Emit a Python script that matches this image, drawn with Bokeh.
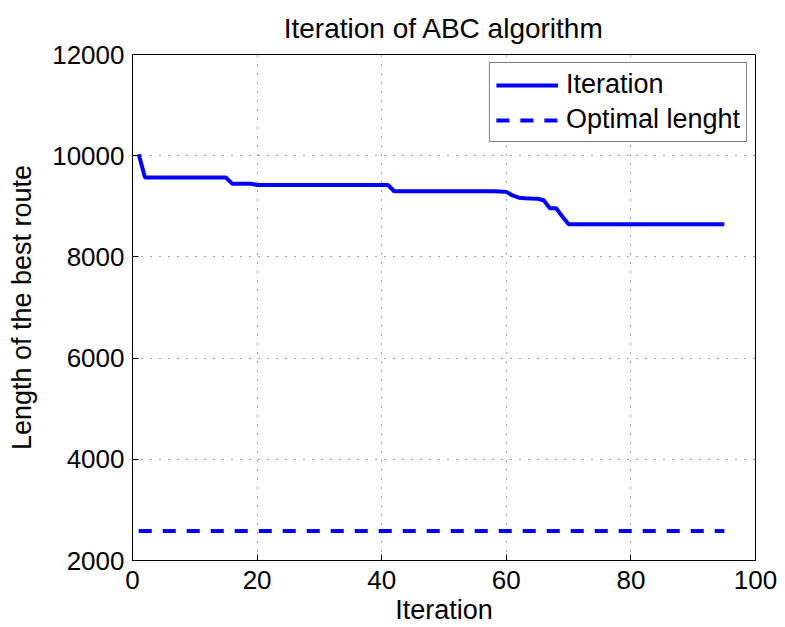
from bokeh.plotting import figure
from bokeh.models import FixedTicker, Range1d, Legend, LegendItem
from bokeh.embed import file_html
from bokeh.resources import INLINE

# Best route length found at each iteration of the ABC run
iterations = list(range(1, 96))
best_length = (
    [10030]
    + [9567] * 14            # iterations 2-15
    + [9447] * 4             # 16-19
    + [9422] * 22            # 20-41
    + [9297] * 17            # 42-58
    + [9294, 9285]           # 59-60
    + [9215, 9170, 9160, 9152, 9148, 9120]   # 61-66
    + [8960, 8960, 8800]     # 67-69
    + [8645] * 26            # 70-95
)
optimal_length = 2585
optimal_x = [1, 95]
optimal_y = [optimal_length, optimal_length]

x_ticks = [0, 20, 40, 60, 80, 100]
y_ticks = [2000, 4000, 6000, 8000, 10000, 12000]

FONT = "Liberation Sans"

p = figure(
    width=785, height=627,
    x_range=Range1d(0, 100), y_range=Range1d(2000, 12000),
    output_backend="svg", toolbar_location=None,
    min_border_left=132, min_border_right=30,
    min_border_top=54, min_border_bottom=65,
    title="Iteration of ABC algorithm",
)
p.title.text_font = FONT
p.title.text_font_size = "28px"
p.title.text_font_style = "normal"
p.title.text_color = "black"
p.title.align = "center"
p.title.standoff = 21

p.outline_line_color = "black"
p.outline_line_width = 1
p.background_fill_color = "white"
p.border_fill_color = "white"

for ax in (p.xaxis[0], p.yaxis[0]):
    ax.major_label_text_font = FONT
    ax.major_label_text_font_size = "26px"
    ax.major_label_text_color = "black"
    ax.axis_label_text_font = FONT
    ax.axis_label_text_font_size = "27px"
    ax.axis_label_text_font_style = "normal"
    ax.axis_label_text_color = "black"
    ax.major_tick_in = 6
    ax.major_tick_out = 0
    ax.minor_tick_in = 0
    ax.minor_tick_out = 0
    ax.axis_line_color = "black"
    ax.major_tick_line_color = "black"

p.xaxis.ticker = FixedTicker(ticks=x_ticks)
p.yaxis.ticker = FixedTicker(ticks=y_ticks)
p.xaxis.axis_label = "Iteration"
p.yaxis.axis_label = "Length of the best route"
p.xaxis.major_label_standoff = 10
p.xaxis.axis_label_standoff = 3
p.yaxis.major_label_standoff = 8
p.yaxis.axis_label_standoff = 12

p.xgrid.ticker = FixedTicker(ticks=x_ticks)
p.ygrid.ticker = FixedTicker(ticks=y_ticks)
for g in (p.xgrid[0], p.ygrid[0]):
    g.grid_line_color = "#404040"
    g.grid_line_dash = "1 8"
    g.grid_line_width = 1

r_iter = p.line(iterations, best_length, line_color="#0000ff", line_width=4)
r_opt = p.line(optimal_x, optimal_y, line_color="#0000ff", line_width=4, line_dash="13 11")

legend = Legend(
    items=[LegendItem(label="Iteration", renderers=[r_iter]),
           LegendItem(label="Optimal lenght", renderers=[r_opt])],
    location="top_right",
)
legend.label_text_font = FONT
legend.label_text_font_size = "27px"
legend.label_text_color = "black"
legend.glyph_width = 62
legend.glyph_height = 30
legend.label_height = 30
legend.spacing = 4
legend.padding = 6
legend.margin = 8
legend.border_line_color = "black"
legend.border_line_width = 1
legend.label_standoff = 8
p.add_layout(legend, "center")

open("out.html", "w").write(file_html(p, INLINE))
